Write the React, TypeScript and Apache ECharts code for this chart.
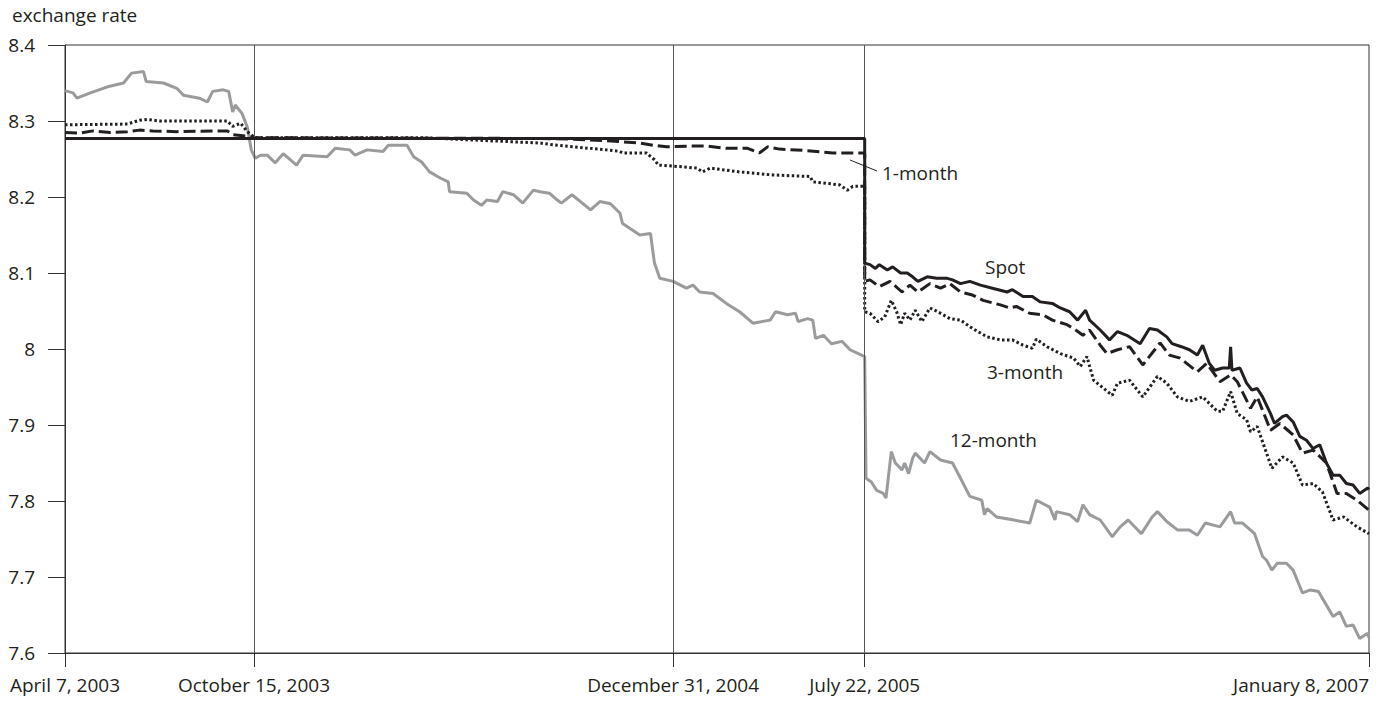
import React, { useEffect, useRef } from "react";
import * as echarts from "echarts";

// x = observation number (trading-day index), 0 = April 7, 2003 ... 980 = January 8, 2007
const tickObs = [0, 142, 457, 601, 980];
const tickLabels = ["April 7, 2003", "October 15, 2003", "December 31, 2004", "July 22, 2005", "January 8, 2007"];
const eventObs = [142, 457, 601];
const yLabel = "exchange rate";

const spot: [number, number][] = [
  [0, 8.277], [601, 8.277], [601, 8.113], [605, 8.111], [609, 8.106], [612, 8.111], [618, 8.104], [622, 8.108],
  [628, 8.1], [633, 8.1], [637, 8.095], [641, 8.089], [648, 8.095], [655, 8.093], [663, 8.093], [667, 8.091],
  [673, 8.086], [680, 8.089], [688, 8.084], [697, 8.08], [708, 8.075], [712, 8.078], [720, 8.069], [727, 8.069],
  [733, 8.062], [742, 8.06], [748, 8.054], [755, 8.049], [761, 8.038], [767, 8.051], [770, 8.038], [778, 8.025],
  [785, 8.012], [791, 8.023], [798, 8.018], [808, 8.007], [815, 8.027], [821, 8.025], [828, 8.016], [832, 8.007],
  [839, 8.003], [845, 7.999], [851, 7.992], [855, 8.005], [860, 7.981], [864, 7.972], [870, 7.975], [875, 7.975],
  [876, 8.003], [877, 7.972], [883, 7.975], [888, 7.955], [892, 7.946], [896, 7.948], [900, 7.937], [906, 7.915],
  [909, 7.902], [915, 7.911], [918, 7.913], [923, 7.904], [928, 7.885], [933, 7.88], [938, 7.869], [943, 7.874],
  [948, 7.85], [953, 7.834], [958, 7.834], [963, 7.823], [968, 7.821], [973, 7.81], [979, 7.817], [980, 7.815],
];

const oneMonth: [number, number][] = [
  [0, 8.285], [11, 8.284], [21, 8.287], [34, 8.285], [47, 8.286], [56, 8.288], [66, 8.287], [84, 8.286],
  [122, 8.287], [126, 8.282], [137, 8.28], [142, 8.278], [357, 8.277], [382, 8.276], [407, 8.274], [432, 8.271],
  [442, 8.268], [452, 8.266], [470, 8.267], [482, 8.267], [497, 8.264], [513, 8.264], [522, 8.258], [528, 8.266],
  [537, 8.263], [558, 8.261], [577, 8.258], [601, 8.258], [601, 8.089], [605, 8.091], [612, 8.082], [620, 8.089],
  [629, 8.075], [635, 8.084], [641, 8.075], [650, 8.086], [658, 8.08], [665, 8.086], [673, 8.075], [682, 8.071],
  [690, 8.064], [703, 8.058], [710, 8.054], [715, 8.056], [725, 8.047], [735, 8.045], [742, 8.038], [753, 8.032],
  [758, 8.027], [765, 8.018], [770, 8.025], [778, 8.005], [783, 7.994], [791, 7.999], [800, 8.003], [810, 7.979],
  [823, 8.008], [830, 7.992], [838, 7.988], [851, 7.97], [858, 7.981], [868, 7.957], [876, 7.966], [881, 7.957],
  [891, 7.922], [896, 7.937], [906, 7.893], [913, 7.902], [923, 7.887], [930, 7.863], [938, 7.867], [948, 7.85],
  [956, 7.81], [963, 7.81], [971, 7.801], [980, 7.788],
];

const threeMonth: [number, number][] = [
  [0, 8.295], [47, 8.296], [56, 8.301], [62, 8.302], [71, 8.3], [122, 8.3], [126, 8.293], [132, 8.297],
  [137, 8.286], [142, 8.279], [144, 8.278], [269, 8.278], [307, 8.275], [332, 8.273], [357, 8.271], [370, 8.268],
  [382, 8.266], [407, 8.262], [417, 8.26], [419, 8.258], [437, 8.258], [443, 8.249], [446, 8.242], [462, 8.24],
  [475, 8.238], [479, 8.233], [485, 8.238], [507, 8.233], [532, 8.229], [560, 8.227], [562, 8.22], [582, 8.216],
  [588, 8.209], [592, 8.214], [601, 8.214], [601, 8.049], [605, 8.047], [611, 8.036], [616, 8.042], [621, 8.064],
  [625, 8.049], [628, 8.032], [631, 8.047], [635, 8.038], [639, 8.051], [644, 8.036], [650, 8.054], [656, 8.049],
  [665, 8.04], [673, 8.038], [682, 8.027], [693, 8.016], [703, 8.012], [712, 8.012], [720, 8.005], [727, 8.001],
  [730, 8.013], [738, 8.003], [748, 7.994], [758, 7.988], [763, 7.977], [768, 7.99], [773, 7.959], [787, 7.939],
  [791, 7.955], [800, 7.959], [810, 7.937], [821, 7.964], [828, 7.955], [836, 7.937], [845, 7.931], [855, 7.937],
  [866, 7.918], [870, 7.918], [876, 7.944], [881, 7.915], [888, 7.907], [891, 7.891], [896, 7.898], [907, 7.843],
  [915, 7.858], [923, 7.85], [930, 7.821], [938, 7.823], [945, 7.812], [953, 7.775], [961, 7.779], [971, 7.766],
  [980, 7.757],
];

const twelveMonth: [number, number][] = [
  [0, 8.34], [6, 8.337], [9, 8.33], [19, 8.337], [32, 8.345], [44, 8.35], [50, 8.363], [59, 8.365], [61, 8.352],
  [74, 8.35], [84, 8.343], [89, 8.334], [101, 8.33], [107, 8.325], [111, 8.339], [119, 8.341], [123, 8.339],
  [126, 8.312], [128, 8.321], [133, 8.31], [137, 8.292], [140, 8.262], [143, 8.251], [147, 8.255], [152, 8.255],
  [158, 8.245], [164, 8.257], [174, 8.242], [179, 8.255], [197, 8.253], [203, 8.264], [214, 8.262], [218, 8.255],
  [227, 8.262], [239, 8.26], [243, 8.268], [257, 8.268], [262, 8.253], [268, 8.246], [274, 8.233], [282, 8.225],
  [288, 8.22], [289, 8.207], [302, 8.205], [307, 8.196], [313, 8.189], [317, 8.196], [325, 8.194], [329, 8.207],
  [337, 8.203], [344, 8.192], [352, 8.209], [357, 8.207], [364, 8.205], [370, 8.196], [373, 8.192], [381, 8.203],
  [395, 8.183], [402, 8.194], [410, 8.191], [417, 8.179], [419, 8.165], [432, 8.15], [440, 8.152], [443, 8.113],
  [447, 8.093], [457, 8.089], [467, 8.08], [472, 8.084], [477, 8.075], [487, 8.073], [497, 8.06], [507, 8.049],
  [517, 8.034], [530, 8.038], [534, 8.049], [543, 8.045], [549, 8.047], [551, 8.036], [558, 8.04], [562, 8.038],
  [564, 8.014], [570, 8.018], [576, 8.007], [584, 8.01], [590, 7.999], [601, 7.99], [602, 7.83], [606, 7.825],
  [610, 7.814], [615, 7.81], [617, 7.804], [621, 7.865], [624, 7.85], [629, 7.841], [631, 7.85], [634, 7.836],
  [637, 7.856], [639, 7.863], [646, 7.85], [650, 7.865], [658, 7.854], [667, 7.85], [673, 7.83], [680, 7.806],
  [689, 7.801], [691, 7.782], [693, 7.79], [700, 7.779], [710, 7.776], [725, 7.771], [730, 7.801], [740, 7.792],
  [744, 7.775], [745, 7.786], [755, 7.782], [761, 7.773], [765, 7.795], [770, 7.782], [778, 7.775], [787, 7.753],
  [793, 7.766], [799, 7.775], [809, 7.757], [817, 7.779], [821, 7.786], [828, 7.773], [836, 7.762], [845, 7.762],
  [851, 7.755], [857, 7.771], [868, 7.766], [876, 7.786], [879, 7.771], [885, 7.771], [894, 7.757], [900, 7.727],
  [903, 7.722], [907, 7.709], [911, 7.718], [918, 7.718], [923, 7.709], [930, 7.679], [936, 7.683], [942, 7.681],
  [948, 7.663], [953, 7.648], [958, 7.654], [963, 7.635], [968, 7.637], [973, 7.619], [979, 7.626], [980, 7.62],
];

const INK = "#231f20";
const GREY = "#9a9b9d";
const FONT = '"Open Sans", "Noto Sans", sans-serif';

export default function App() {
  const ref = useRef<HTMLDivElement>(null);
  useEffect(() => {
    if (!ref.current) return;
    const chart = echarts.init(ref.current, undefined, { renderer: "svg" });
    const txt = (text: string, x: number, y: number) => ({
      type: "text",
      x,
      y,
      silent: true,
      style: { text, fill: INK, font: `19px ${FONT}`, align: "left", verticalAlign: "middle" },
    });
    chart.setOption({
      animation: false,
      backgroundColor: "#ffffff",
      textStyle: { fontFamily: FONT },
      grid: { left: 65, right: 13, top: 45, bottom: 50, containLabel: false, outerBoundsMode: "none", show: true, borderColor: "#333", borderWidth: 1 },
      xAxis: {
        type: "value",
        min: 0,
        max: 980,
        splitLine: { show: false },
        axisLine: { show: true, lineStyle: { color: "#333", width: 1 } },
        axisTick: { show: true, customValues: tickObs, length: 14, lineStyle: { color: "#333", width: 1 } },
        axisLabel: {
          customValues: tickObs,
          formatter: (v: number) => {
            const i = tickObs.indexOf(Math.round(v));
            return i >= 0 ? tickLabels[i] : "";
          },
          fontSize: 19,
          fontFamily: FONT,
          color: INK,
          margin: 22,
          alignMaxLabel: "right",
          showMaxLabel: true,
          showMinLabel: true,
        },
      },
      yAxis: {
        type: "value",
        min: 7.6,
        max: 8.4,
        interval: 0.1,
        splitLine: { show: false },
        axisLine: { show: true, lineStyle: { color: "#333", width: 1 } },
        axisTick: { show: true, length: 17, lineStyle: { color: "#333", width: 1 } },
        axisLabel: { fontSize: 19, fontFamily: FONT, color: INK, margin: 30 },
      },
      graphic: [
        txt(yLabel, 12, 15),
        txt("1-month", 882, 173),
        txt("Spot", 985, 267),
        txt("3-month", 987, 372),
        txt("12-month", 950, 440),
        { type: "line", silent: true, shape: { x1: 850, y1: 160, x2: 877, y2: 171 }, style: { stroke: INK, lineWidth: 1 } },
      ],
      series: [
        {
          name: "12-month",
          type: "line",
          data: twelveMonth,
          symbol: "none",
          lineStyle: { color: GREY, width: 3 },
          z: 2,
          markLine: {
            silent: true,
            symbol: "none",
            label: { show: false },
            lineStyle: { color: "#555", width: 1, type: "solid" },
            data: eventObs.map((x) => ({ xAxis: x })),
          },
        },
        { name: "3-month", type: "line", data: threeMonth, symbol: "none", lineStyle: { color: INK, width: 3, type: [2.5, 2.5] }, z: 3 },
        { name: "1-month", type: "line", data: oneMonth, symbol: "none", lineStyle: { color: INK, width: 3, type: [12, 5] }, z: 4 },
        { name: "Spot", type: "line", data: spot, symbol: "none", lineStyle: { color: INK, width: 3 }, z: 5 },
      ],
    });
    return () => chart.dispose();
  }, []);
  return <div ref={ref} style={{ position: "fixed", left: 0, top: 0, width: 1382, height: 703 }} />;
}
